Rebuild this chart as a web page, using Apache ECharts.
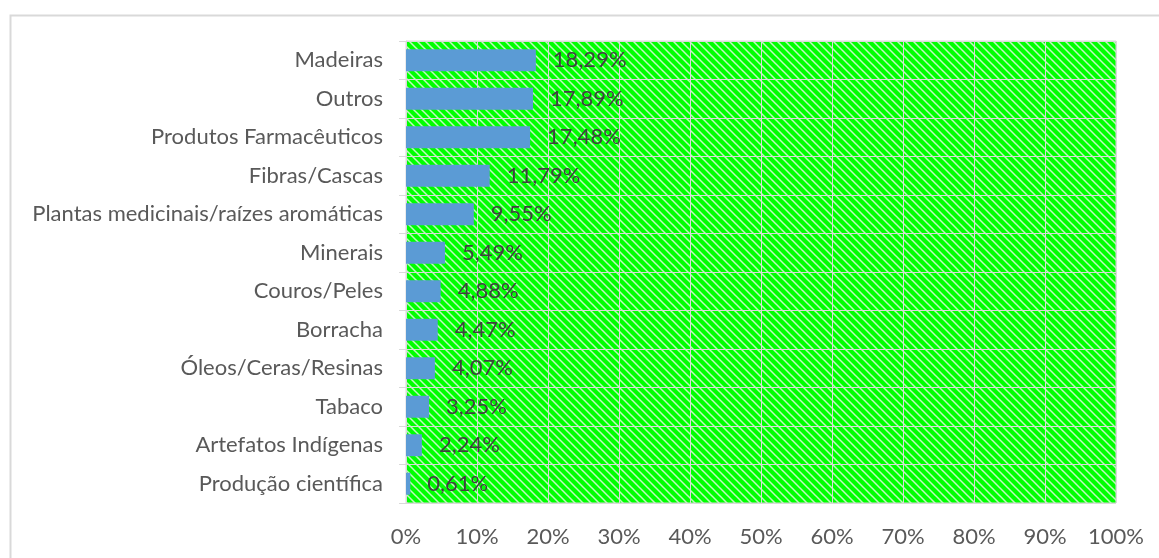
<!DOCTYPE html>
<html>
<head>
<meta charset="utf-8">
<script src="https://cdn.jsdelivr.net/npm/echarts@6/dist/echarts.min.js"></script>
<style>
html,body{margin:0;padding:0;background:#fff;}
#chart{width:1159px;height:558px;}
</style>
</head>
<body>
<div id="chart"></div>
<script>
const categories = ['Madeiras','Outros','Produtos Farmacêuticos','Fibras/Cascas','Plantas medicinais/raízes aromáticas','Minerais','Couros/Peles','Borracha','Óleos/Ceras/Resinas','Tabaco','Artefatos Indígenas','Produção científica'];
const values = [18.29, 17.89, 17.48, 11.79, 9.55, 5.49, 4.88, 4.47, 4.07, 3.25, 2.24, 0.61];
const xTicks = [0,10,20,30,40,50,60,70,80,90,100];

function makePattern(){
  const c = document.createElement('canvas');
  c.width = 8; c.height = 8;
  const g = c.getContext('2d');
  g.fillStyle = '#00ff00';
  g.fillRect(0,0,8,8);
  g.strokeStyle = '#c0f8c0';
  g.lineWidth = 1.5;
  g.beginPath();
  g.moveTo(-2,-2); g.lineTo(10,10);
  g.moveTo(-2,6); g.lineTo(2,10);
  g.moveTo(6,-2); g.lineTo(10,2);
  g.stroke();
  return c;
}

const chart = echarts.init(document.getElementById('chart'));
const FONT = 'Lato';
chart.setOption({
  animation:false,
  backgroundColor:'#fff',
  graphic:[{
    type:'rect', left:8, top:13, silent:true,
    shape:{width:1300,height:700},
    style:{fill:'none',stroke:'#d9d9d9',lineWidth:2}
  }],
  grid:{
    left:406, right:43, top:41, bottom:55,
    show:true,
    backgroundColor:{image:makePattern(), repeat:'repeat'},
    borderColor:'#d9d9d9', borderWidth:1
  },
  xAxis:{
    type:'value', min:0, max:100, interval:10,
    axisLine:{show:false},
    axisTick:{show:false},
    splitLine:{show:true,lineStyle:{color:'#d9d9d9',width:1}},
    axisLabel:{
      formatter:v=>v+'%', color:'#595959', fontFamily:FONT, fontSize:22, margin:23
    }
  },
  yAxis:{
    type:'category', data:categories, inverse:true,
    axisLine:{show:true,lineStyle:{color:'#d9d9d9'}},
    axisTick:{show:true,length:7,lineStyle:{color:'#d9d9d9'}},
    splitLine:{show:true,lineStyle:{color:'#d9d9d9',width:1}},
    axisLabel:{color:'#595959', fontFamily:FONT, fontSize:22, margin:23}
  },
  series:[{
    type:'bar', data:values,
    barCategoryGap:'43%',
    itemStyle:{color:'#5b9bd5'},
    label:{
      show:true, position:'right', distance:17,
      formatter:p=>p.value.toFixed(2).replace('.',',')+'%',
      color:'#404040', fontFamily:FONT, fontSize:22
    }
  }]
});
</script>
</body>
</html>
